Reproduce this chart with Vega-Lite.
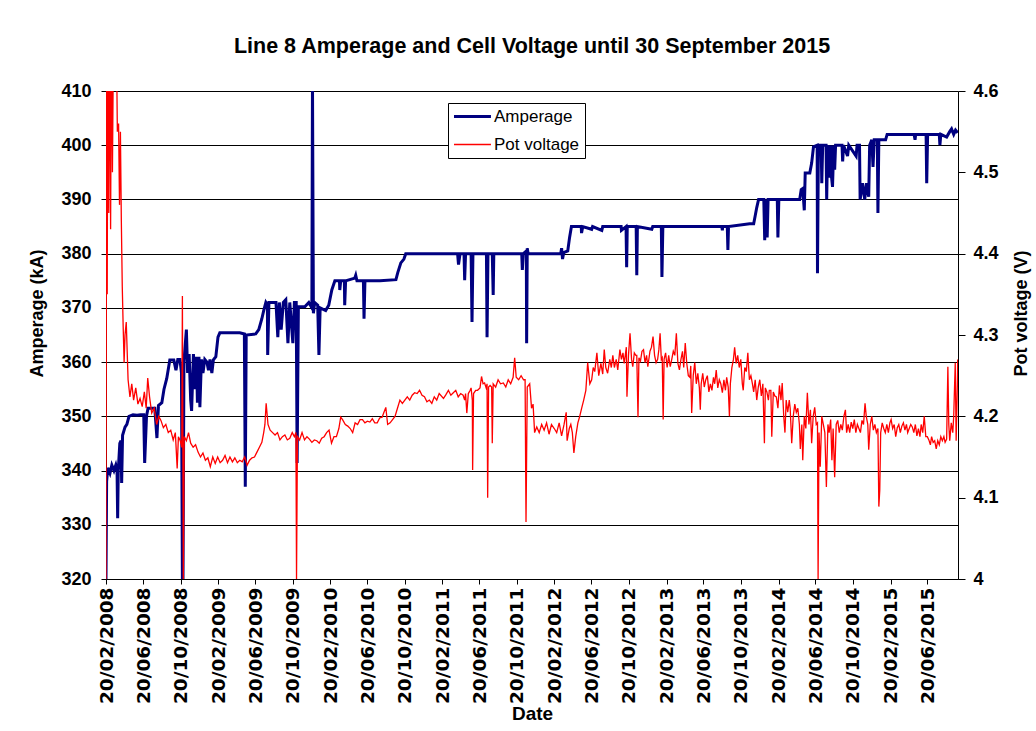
{
  "$schema": "https://vega.github.io/schema/vega-lite/v6.json",
  "width": 852,
  "height": 488,
  "autosize": {"type": "none"},
  "padding": {"left": 106, "top": 91, "right": 78, "bottom": 152},
  "background": "white",
  "title": {
    "text": "Line 8 Amperage and Cell Voltage until 30 September  2015",
    "font": "Liberation Sans",
    "fontSize": 21.5,
    "fontWeight": "bold",
    "color": "#000",
    "anchor": "middle",
    "offset": 25
  },
  "datasets": {
    "amp": [
      {"date":"2008-02-20","kA":320},{"date":"2008-02-22","kA":338},{"date":"2008-02-26","kA":340.5},{"date":"2008-03-04","kA":339.5},{"date":"2008-03-10","kA":341},{"date":"2008-03-17","kA":340},{"date":"2008-03-23","kA":341},{"date":"2008-03-27","kA":340},{"date":"2008-03-29","kA":331.2},{"date":"2008-03-31","kA":340},{"date":"2008-04-05","kA":345},{"date":"2008-04-09","kA":345.5},{"date":"2008-04-11","kA":337.7},{"date":"2008-04-14","kA":346.5},{"date":"2008-04-22","kA":348},{"date":"2008-04-28","kA":348.5},{"date":"2008-05-05","kA":350},{"date":"2008-05-18","kA":350.3},{"date":"2008-05-31","kA":350.2},{"date":"2008-06-12","kA":350.3},{"date":"2008-06-22","kA":350.3},{"date":"2008-06-25","kA":341.4},{"date":"2008-07-01","kA":350},{"date":"2008-07-06","kA":351.5},{"date":"2008-07-22","kA":351.5},{"date":"2008-07-28","kA":351.5},{"date":"2008-08-04","kA":346},{"date":"2008-08-09","kA":352},{"date":"2008-08-20","kA":352.5},{"date":"2008-08-27","kA":355},{"date":"2008-09-05","kA":357},{"date":"2008-09-15","kA":360.4},{"date":"2008-09-28","kA":360.4},{"date":"2008-10-05","kA":358.5},{"date":"2008-10-11","kA":360.5},{"date":"2008-10-18","kA":360.5},{"date":"2008-10-23","kA":358},{"date":"2008-10-26","kA":320},{"date":"2008-10-28","kA":320},{"date":"2008-10-31","kA":360},{"date":"2008-11-08","kA":366},{"date":"2008-11-12","kA":358},{"date":"2008-11-17","kA":361.5},{"date":"2008-11-22","kA":353},{"date":"2008-11-25","kA":351},{"date":"2008-12-01","kA":361.5},{"date":"2008-12-06","kA":355},{"date":"2008-12-11","kA":361},{"date":"2008-12-14","kA":352.5},{"date":"2008-12-19","kA":361},{"date":"2008-12-22","kA":351.7},{"date":"2008-12-27","kA":360.5},{"date":"2009-01-01","kA":358},{"date":"2009-01-07","kA":360.5},{"date":"2009-01-14","kA":360},{"date":"2009-01-19","kA":358.5},{"date":"2009-01-24","kA":360.5},{"date":"2009-01-30","kA":358},{"date":"2009-02-04","kA":360.4},{"date":"2009-02-12","kA":361},{"date":"2009-02-19","kA":364.6},{"date":"2009-02-25","kA":365.4},{"date":"2009-03-30","kA":365.4},{"date":"2009-05-01","kA":365.4},{"date":"2009-05-16","kA":365.2},{"date":"2009-05-19","kA":337},{"date":"2009-05-22","kA":365},{"date":"2009-06-22","kA":365.2},{"date":"2009-07-02","kA":366},{"date":"2009-07-12","kA":368},{"date":"2009-07-18","kA":369.5},{"date":"2009-07-25","kA":371},{"date":"2009-07-30","kA":370.5},{"date":"2009-07-31","kA":361.3},{"date":"2009-08-04","kA":371},{"date":"2009-08-27","kA":371},{"date":"2009-09-02","kA":364.6},{"date":"2009-09-07","kA":371},{"date":"2009-09-13","kA":366},{"date":"2009-09-20","kA":371},{"date":"2009-09-28","kA":371.5},{"date":"2009-10-05","kA":363.5},{"date":"2009-10-11","kA":371},{"date":"2009-10-21","kA":363.5},{"date":"2009-10-26","kA":371},{"date":"2009-11-01","kA":371},{"date":"2009-11-04","kA":341.4},{"date":"2009-11-08","kA":370.2},{"date":"2009-11-29","kA":370.2},{"date":"2009-12-12","kA":371},{"date":"2009-12-22","kA":370},{"date":"2009-12-24","kA":412},{"date":"2009-12-27","kA":369},{"date":"2009-12-31","kA":371},{"date":"2010-01-10","kA":370.5},{"date":"2010-01-14","kA":361.3},{"date":"2010-01-18","kA":370},{"date":"2010-02-05","kA":369.5},{"date":"2010-02-15","kA":370.5},{"date":"2010-02-25","kA":373.3},{"date":"2010-03-07","kA":375},{"date":"2010-03-22","kA":375},{"date":"2010-03-23","kA":373.3},{"date":"2010-03-26","kA":375},{"date":"2010-04-07","kA":375},{"date":"2010-04-08","kA":370.5},{"date":"2010-04-11","kA":375},{"date":"2010-05-11","kA":375.5},{"date":"2010-05-14","kA":376},{"date":"2010-05-18","kA":375},{"date":"2010-06-08","kA":375},{"date":"2010-06-10","kA":368},{"date":"2010-06-13","kA":375},{"date":"2010-08-01","kA":375},{"date":"2010-09-22","kA":375.2},{"date":"2010-09-28","kA":376.5},{"date":"2010-10-08","kA":378.3},{"date":"2010-10-18","kA":379},{"date":"2010-10-24","kA":380},{"date":"2011-01-10","kA":380},{"date":"2011-02-19","kA":380},{"date":"2011-04-11","kA":380},{"date":"2011-04-14","kA":378},{"date":"2011-04-19","kA":380},{"date":"2011-05-02","kA":380},{"date":"2011-05-04","kA":375.1},{"date":"2011-05-07","kA":380},{"date":"2011-05-25","kA":380},{"date":"2011-05-28","kA":367.4},{"date":"2011-05-31","kA":380},{"date":"2011-07-14","kA":380},{"date":"2011-07-16","kA":364.6},{"date":"2011-07-19","kA":380},{"date":"2011-08-02","kA":380},{"date":"2011-08-05","kA":372.4},{"date":"2011-08-07","kA":380},{"date":"2011-09-28","kA":380},{"date":"2011-11-06","kA":380},{"date":"2011-11-08","kA":377},{"date":"2011-11-11","kA":380},{"date":"2011-11-21","kA":380.5},{"date":"2011-11-22","kA":363.5},{"date":"2011-11-24","kA":381},{"date":"2011-11-27","kA":380},{"date":"2012-02-05","kA":380},{"date":"2012-03-12","kA":380},{"date":"2012-03-15","kA":381},{"date":"2012-03-18","kA":379},{"date":"2012-03-22","kA":380.2},{"date":"2012-04-04","kA":380.5},{"date":"2012-04-10","kA":383},{"date":"2012-04-16","kA":385},{"date":"2012-05-18","kA":385},{"date":"2012-05-19","kA":383.8},{"date":"2012-05-23","kA":385},{"date":"2012-06-21","kA":384.5},{"date":"2012-06-24","kA":385},{"date":"2012-07-24","kA":384.3},{"date":"2012-07-27","kA":385},{"date":"2012-09-25","kA":385},{"date":"2012-09-26","kA":384.3},{"date":"2012-10-11","kA":385},{"date":"2012-10-13","kA":377.5},{"date":"2012-10-15","kA":385},{"date":"2012-11-13","kA":385},{"date":"2012-11-15","kA":376},{"date":"2012-11-17","kA":385},{"date":"2013-01-03","kA":384.5},{"date":"2013-01-06","kA":385},{"date":"2013-02-03","kA":385},{"date":"2013-02-05","kA":375.7},{"date":"2013-02-08","kA":385},{"date":"2013-06-08","kA":385},{"date":"2013-08-19","kA":385},{"date":"2013-08-21","kA":384.3},{"date":"2013-08-22","kA":385},{"date":"2013-09-06","kA":385},{"date":"2013-09-08","kA":380.7},{"date":"2013-09-10","kA":385},{"date":"2013-11-18","kA":385.5},{"date":"2013-12-01","kA":385.5},{"date":"2013-12-06","kA":387},{"date":"2013-12-11","kA":388.5},{"date":"2013-12-17","kA":390},{"date":"2014-01-03","kA":390},{"date":"2014-01-06","kA":382.5},{"date":"2014-01-09","kA":390},{"date":"2014-01-14","kA":383},{"date":"2014-01-17","kA":390},{"date":"2014-02-16","kA":390},{"date":"2014-02-18","kA":383},{"date":"2014-02-21","kA":390},{"date":"2014-04-30","kA":390},{"date":"2014-05-05","kA":391.8},{"date":"2014-05-10","kA":392},{"date":"2014-05-15","kA":388},{"date":"2014-05-18","kA":394.9},{"date":"2014-06-02","kA":394.9},{"date":"2014-06-08","kA":396.7},{"date":"2014-06-14","kA":399.7},{"date":"2014-06-26","kA":400},{"date":"2014-06-27","kA":376.4},{"date":"2014-06-30","kA":400},{"date":"2014-07-09","kA":400},{"date":"2014-07-11","kA":393},{"date":"2014-07-14","kA":400},{"date":"2014-07-25","kA":400},{"date":"2014-07-27","kA":390},{"date":"2014-07-30","kA":400},{"date":"2014-08-06","kA":394},{"date":"2014-08-09","kA":400},{"date":"2014-08-12","kA":394},{"date":"2014-08-15","kA":392.3},{"date":"2014-08-19","kA":400},{"date":"2014-08-22","kA":395.5},{"date":"2014-08-25","kA":400},{"date":"2014-09-15","kA":400},{"date":"2014-09-17","kA":397},{"date":"2014-09-20","kA":400},{"date":"2014-10-03","kA":398},{"date":"2014-10-07","kA":400},{"date":"2014-10-31","kA":398},{"date":"2014-11-03","kA":400},{"date":"2014-11-11","kA":400},{"date":"2014-11-13","kA":390},{"date":"2014-11-21","kA":393},{"date":"2014-11-28","kA":390},{"date":"2014-12-04","kA":393},{"date":"2014-12-11","kA":390.5},{"date":"2014-12-14","kA":400},{"date":"2014-12-21","kA":401},{"date":"2014-12-25","kA":396},{"date":"2014-12-29","kA":401},{"date":"2015-01-08","kA":401},{"date":"2015-01-10","kA":387.5},{"date":"2015-01-13","kA":401},{"date":"2015-02-04","kA":401},{"date":"2015-02-09","kA":402},{"date":"2015-05-08","kA":402},{"date":"2015-05-11","kA":401},{"date":"2015-05-13","kA":402},{"date":"2015-06-16","kA":402},{"date":"2015-06-18","kA":393},{"date":"2015-06-21","kA":402},{"date":"2015-07-29","kA":402},{"date":"2015-07-31","kA":400},{"date":"2015-08-03","kA":402},{"date":"2015-08-22","kA":401.5},{"date":"2015-09-01","kA":402.5},{"date":"2015-09-07","kA":403},{"date":"2015-09-14","kA":402},{"date":"2015-09-20","kA":402.8},{"date":"2015-09-27","kA":402.3}
    ],
    "volt": [
      {"date":"2008-02-20","V":4.0},{"date":"2008-02-22","V":4.7},{"date":"2008-02-24","V":4.35},{"date":"2008-02-26","V":4.7},{"date":"2008-02-29","V":4.45},{"date":"2008-03-03","V":4.7},{"date":"2008-03-06","V":4.43},{"date":"2008-03-09","V":4.7},{"date":"2008-03-12","V":4.5},{"date":"2008-03-16","V":4.7},{"date":"2008-03-20","V":4.6},{"date":"2008-03-24","V":4.7},{"date":"2008-03-28","V":4.55},{"date":"2008-04-01","V":4.56},{"date":"2008-04-04","V":4.46},{"date":"2008-04-07","V":4.55},{"date":"2008-04-10","V":4.44},{"date":"2008-04-13","V":4.36},{"date":"2008-04-16","V":4.31},{"date":"2008-04-19","V":4.266},{"date":"2008-04-22","V":4.3},{"date":"2008-04-26","V":4.316},{"date":"2008-05-02","V":4.245},{"date":"2008-05-08","V":4.224},{"date":"2008-05-14","V":4.24},{"date":"2008-05-20","V":4.22},{"date":"2008-05-27","V":4.235},{"date":"2008-06-03","V":4.215},{"date":"2008-06-10","V":4.222},{"date":"2008-06-17","V":4.212},{"date":"2008-06-24","V":4.23},{"date":"2008-06-30","V":4.21},{"date":"2008-07-05","V":4.247},{"date":"2008-07-11","V":4.224},{"date":"2008-07-18","V":4.204},{"date":"2008-07-26","V":4.21},{"date":"2008-08-03","V":4.19},{"date":"2008-08-10","V":4.2},{"date":"2008-08-17","V":4.195},{"date":"2008-08-25","V":4.186},{"date":"2008-09-02","V":4.19},{"date":"2008-09-10","V":4.18},{"date":"2008-09-18","V":4.183},{"date":"2008-09-26","V":4.171},{"date":"2008-10-03","V":4.18},{"date":"2008-10-09","V":4.136},{"date":"2008-10-13","V":4.175},{"date":"2008-10-19","V":4.17},{"date":"2008-10-24","V":4.162},{"date":"2008-10-26","V":4.348},{"date":"2008-10-29","V":4.0},{"date":"2008-11-01","V":4.175},{"date":"2008-11-08","V":4.17},{"date":"2008-11-15","V":4.18},{"date":"2008-11-22","V":4.167},{"date":"2008-11-30","V":4.162},{"date":"2008-12-08","V":4.165},{"date":"2008-12-16","V":4.156},{"date":"2008-12-24","V":4.15},{"date":"2009-01-01","V":4.155},{"date":"2009-01-09","V":4.146},{"date":"2009-01-17","V":4.149},{"date":"2009-01-25","V":4.138},{"date":"2009-02-02","V":4.15},{"date":"2009-02-10","V":4.142},{"date":"2009-02-18","V":4.15},{"date":"2009-02-26","V":4.143},{"date":"2009-03-06","V":4.146},{"date":"2009-03-14","V":4.152},{"date":"2009-03-22","V":4.143},{"date":"2009-03-30","V":4.15},{"date":"2009-04-07","V":4.144},{"date":"2009-04-15","V":4.149},{"date":"2009-04-23","V":4.143},{"date":"2009-05-01","V":4.146},{"date":"2009-05-09","V":4.144},{"date":"2009-05-17","V":4.15},{"date":"2009-05-25","V":4.14},{"date":"2009-06-02","V":4.146},{"date":"2009-06-10","V":4.149},{"date":"2009-06-18","V":4.15},{"date":"2009-06-26","V":4.156},{"date":"2009-07-04","V":4.162},{"date":"2009-07-12","V":4.168},{"date":"2009-07-18","V":4.18},{"date":"2009-07-22","V":4.19},{"date":"2009-07-26","V":4.216},{"date":"2009-08-01","V":4.19},{"date":"2009-08-08","V":4.183},{"date":"2009-08-16","V":4.18},{"date":"2009-08-24","V":4.177},{"date":"2009-09-01","V":4.18},{"date":"2009-09-09","V":4.171},{"date":"2009-09-17","V":4.175},{"date":"2009-09-25","V":4.177},{"date":"2009-10-03","V":4.171},{"date":"2009-10-11","V":4.173},{"date":"2009-10-19","V":4.18},{"date":"2009-10-26","V":4.175},{"date":"2009-10-31","V":4.18},{"date":"2009-11-02","V":4.0},{"date":"2009-11-05","V":4.175},{"date":"2009-11-12","V":4.171},{"date":"2009-11-20","V":4.18},{"date":"2009-11-28","V":4.171},{"date":"2009-12-06","V":4.175},{"date":"2009-12-14","V":4.172},{"date":"2009-12-22","V":4.168},{"date":"2009-12-30","V":4.171},{"date":"2010-01-07","V":4.17},{"date":"2010-01-15","V":4.167},{"date":"2010-01-23","V":4.173},{"date":"2010-01-31","V":4.175},{"date":"2010-02-08","V":4.18},{"date":"2010-02-16","V":4.183},{"date":"2010-02-24","V":4.167},{"date":"2010-03-04","V":4.175},{"date":"2010-03-12","V":4.175},{"date":"2010-03-20","V":4.185},{"date":"2010-03-26","V":4.199},{"date":"2010-04-01","V":4.196},{"date":"2010-04-10","V":4.19},{"date":"2010-04-18","V":4.188},{"date":"2010-04-26","V":4.185},{"date":"2010-05-04","V":4.18},{"date":"2010-05-12","V":4.192},{"date":"2010-05-20","V":4.19},{"date":"2010-05-28","V":4.196},{"date":"2010-06-05","V":4.196},{"date":"2010-06-13","V":4.192},{"date":"2010-06-21","V":4.194},{"date":"2010-06-29","V":4.193},{"date":"2010-07-07","V":4.197},{"date":"2010-07-15","V":4.192},{"date":"2010-07-23","V":4.192},{"date":"2010-07-31","V":4.198},{"date":"2010-08-08","V":4.199},{"date":"2010-08-14","V":4.205},{"date":"2010-08-20","V":4.211},{"date":"2010-08-26","V":4.19},{"date":"2010-09-03","V":4.192},{"date":"2010-09-11","V":4.196},{"date":"2010-09-19","V":4.2},{"date":"2010-09-27","V":4.21},{"date":"2010-10-05","V":4.22},{"date":"2010-10-13","V":4.216},{"date":"2010-10-21","V":4.22},{"date":"2010-10-29","V":4.224},{"date":"2010-11-06","V":4.22},{"date":"2010-11-14","V":4.226},{"date":"2010-11-22","V":4.229},{"date":"2010-11-30","V":4.228},{"date":"2010-12-08","V":4.232},{"date":"2010-12-16","V":4.226},{"date":"2010-12-24","V":4.224},{"date":"2011-01-01","V":4.218},{"date":"2011-01-09","V":4.22},{"date":"2011-01-17","V":4.216},{"date":"2011-01-25","V":4.224},{"date":"2011-02-02","V":4.22},{"date":"2011-02-10","V":4.228},{"date":"2011-02-24","V":4.222},{"date":"2011-03-03","V":4.226},{"date":"2011-03-12","V":4.232},{"date":"2011-03-20","V":4.226},{"date":"2011-03-28","V":4.229},{"date":"2011-04-05","V":4.232},{"date":"2011-04-13","V":4.224},{"date":"2011-04-21","V":4.228},{"date":"2011-04-29","V":4.226},{"date":"2011-05-04","V":4.22},{"date":"2011-05-07","V":4.228},{"date":"2011-05-11","V":4.204},{"date":"2011-05-16","V":4.228},{"date":"2011-05-22","V":4.232},{"date":"2011-05-25","V":4.235},{"date":"2011-05-29","V":4.22},{"date":"2011-05-30","V":4.134},{"date":"2011-06-02","V":4.228},{"date":"2011-06-09","V":4.232},{"date":"2011-06-15","V":4.232},{"date":"2011-06-23","V":4.235},{"date":"2011-06-28","V":4.249},{"date":"2011-07-03","V":4.24},{"date":"2011-07-08","V":4.241},{"date":"2011-07-13","V":4.235},{"date":"2011-07-16","V":4.24},{"date":"2011-07-18","V":4.1},{"date":"2011-07-21","V":4.236},{"date":"2011-07-26","V":4.238},{"date":"2011-07-31","V":4.236},{"date":"2011-08-02","V":4.167},{"date":"2011-08-05","V":4.24},{"date":"2011-08-13","V":4.236},{"date":"2011-08-21","V":4.245},{"date":"2011-08-29","V":4.24},{"date":"2011-09-07","V":4.241},{"date":"2011-09-15","V":4.236},{"date":"2011-09-23","V":4.245},{"date":"2011-10-01","V":4.24},{"date":"2011-10-09","V":4.248},{"date":"2011-10-14","V":4.272},{"date":"2011-10-19","V":4.248},{"date":"2011-10-27","V":4.245},{"date":"2011-11-04","V":4.25},{"date":"2011-11-12","V":4.245},{"date":"2011-11-17","V":4.245},{"date":"2011-11-20","V":4.07},{"date":"2011-11-24","V":4.236},{"date":"2011-12-02","V":4.24},{"date":"2011-12-08","V":4.21},{"date":"2011-12-13","V":4.215},{"date":"2011-12-18","V":4.18},{"date":"2011-12-25","V":4.187},{"date":"2012-01-02","V":4.18},{"date":"2012-01-10","V":4.19},{"date":"2012-01-18","V":4.183},{"date":"2012-01-26","V":4.192},{"date":"2012-02-03","V":4.178},{"date":"2012-02-11","V":4.19},{"date":"2012-02-20","V":4.185},{"date":"2012-02-28","V":4.18},{"date":"2012-03-07","V":4.192},{"date":"2012-03-15","V":4.176},{"date":"2012-03-23","V":4.19},{"date":"2012-03-30","V":4.205},{"date":"2012-04-02","V":4.17},{"date":"2012-04-09","V":4.185},{"date":"2012-04-14","V":4.19},{"date":"2012-04-19","V":4.18},{"date":"2012-04-24","V":4.155},{"date":"2012-04-30","V":4.175},{"date":"2012-05-07","V":4.192},{"date":"2012-05-13","V":4.2},{"date":"2012-05-20","V":4.211},{"date":"2012-05-26","V":4.22},{"date":"2012-06-02","V":4.232},{"date":"2012-06-08","V":4.266},{"date":"2012-06-15","V":4.24},{"date":"2012-06-21","V":4.245},{"date":"2012-06-26","V":4.26},{"date":"2012-07-01","V":4.255},{"date":"2012-07-08","V":4.278},{"date":"2012-07-14","V":4.25},{"date":"2012-07-21","V":4.265},{"date":"2012-07-27","V":4.252},{"date":"2012-08-01","V":4.282},{"date":"2012-08-06","V":4.26},{"date":"2012-08-12","V":4.253},{"date":"2012-08-19","V":4.27},{"date":"2012-08-24","V":4.26},{"date":"2012-08-29","V":4.275},{"date":"2012-09-03","V":4.26},{"date":"2012-09-09","V":4.27},{"date":"2012-09-14","V":4.257},{"date":"2012-09-21","V":4.282},{"date":"2012-09-26","V":4.27},{"date":"2012-10-01","V":4.278},{"date":"2012-10-05","V":4.265},{"date":"2012-10-12","V":4.285},{"date":"2012-10-14","V":4.224},{"date":"2012-10-19","V":4.275},{"date":"2012-10-24","V":4.302},{"date":"2012-10-29","V":4.27},{"date":"2012-11-02","V":4.261},{"date":"2012-11-07","V":4.278},{"date":"2012-11-12","V":4.275},{"date":"2012-11-15","V":4.275},{"date":"2012-11-19","V":4.199},{"date":"2012-11-22","V":4.272},{"date":"2012-11-27","V":4.268},{"date":"2012-12-02","V":4.28},{"date":"2012-12-07","V":4.282},{"date":"2012-12-12","V":4.266},{"date":"2012-12-17","V":4.275},{"date":"2012-12-21","V":4.261},{"date":"2012-12-28","V":4.28},{"date":"2013-01-02","V":4.285},{"date":"2013-01-07","V":4.298},{"date":"2013-01-12","V":4.275},{"date":"2013-01-17","V":4.266},{"date":"2013-01-22","V":4.27},{"date":"2013-01-26","V":4.282},{"date":"2013-01-30","V":4.302},{"date":"2013-02-03","V":4.27},{"date":"2013-02-06","V":4.272},{"date":"2013-02-09","V":4.196},{"date":"2013-02-12","V":4.27},{"date":"2013-02-17","V":4.278},{"date":"2013-02-22","V":4.26},{"date":"2013-02-27","V":4.275},{"date":"2013-03-04","V":4.261},{"date":"2013-03-09","V":4.27},{"date":"2013-03-14","V":4.28},{"date":"2013-03-19","V":4.275},{"date":"2013-03-24","V":4.302},{"date":"2013-03-29","V":4.265},{"date":"2013-04-03","V":4.257},{"date":"2013-04-08","V":4.27},{"date":"2013-04-13","V":4.28},{"date":"2013-04-17","V":4.26},{"date":"2013-04-22","V":4.29},{"date":"2013-04-27","V":4.265},{"date":"2013-05-02","V":4.25},{"date":"2013-05-07","V":4.248},{"date":"2013-05-10","V":4.262},{"date":"2013-05-13","V":4.204},{"date":"2013-05-18","V":4.25},{"date":"2013-05-23","V":4.266},{"date":"2013-05-28","V":4.24},{"date":"2013-06-02","V":4.253},{"date":"2013-06-07","V":4.235},{"date":"2013-06-10","V":4.208},{"date":"2013-06-13","V":4.24},{"date":"2013-06-18","V":4.253},{"date":"2013-06-23","V":4.236},{"date":"2013-06-28","V":4.245},{"date":"2013-07-03","V":4.25},{"date":"2013-07-08","V":4.23},{"date":"2013-07-13","V":4.24},{"date":"2013-07-18","V":4.232},{"date":"2013-07-23","V":4.248},{"date":"2013-07-27","V":4.24},{"date":"2013-08-01","V":4.257},{"date":"2013-08-06","V":4.235},{"date":"2013-08-11","V":4.245},{"date":"2013-08-16","V":4.24},{"date":"2013-08-21","V":4.229},{"date":"2013-08-26","V":4.245},{"date":"2013-08-31","V":4.232},{"date":"2013-09-04","V":4.248},{"date":"2013-09-09","V":4.236},{"date":"2013-09-13","V":4.2},{"date":"2013-09-16","V":4.24},{"date":"2013-09-21","V":4.26},{"date":"2013-09-26","V":4.27},{"date":"2013-09-30","V":4.285},{"date":"2013-10-05","V":4.265},{"date":"2013-10-10","V":4.275},{"date":"2013-10-15","V":4.26},{"date":"2013-10-20","V":4.27},{"date":"2013-10-25","V":4.24},{"date":"2013-10-28","V":4.232},{"date":"2013-11-02","V":4.26},{"date":"2013-11-07","V":4.255},{"date":"2013-11-12","V":4.278},{"date":"2013-11-17","V":4.245},{"date":"2013-11-22","V":4.25},{"date":"2013-11-27","V":4.24},{"date":"2013-12-01","V":4.23},{"date":"2013-12-06","V":4.245},{"date":"2013-12-11","V":4.22},{"date":"2013-12-16","V":4.236},{"date":"2013-12-21","V":4.245},{"date":"2013-12-26","V":4.225},{"date":"2013-12-31","V":4.24},{"date":"2014-01-05","V":4.167},{"date":"2014-01-08","V":4.235},{"date":"2014-01-13","V":4.23},{"date":"2014-01-18","V":4.22},{"date":"2014-01-21","V":4.232},{"date":"2014-01-26","V":4.232},{"date":"2014-01-29","V":4.175},{"date":"2014-02-03","V":4.23},{"date":"2014-02-08","V":4.225},{"date":"2014-02-13","V":4.224},{"date":"2014-02-18","V":4.21},{"date":"2014-02-23","V":4.238},{"date":"2014-02-28","V":4.22},{"date":"2014-03-04","V":4.241},{"date":"2014-03-09","V":4.2},{"date":"2014-03-13","V":4.18},{"date":"2014-03-17","V":4.22},{"date":"2014-03-22","V":4.205},{"date":"2014-03-27","V":4.22},{"date":"2014-03-30","V":4.21},{"date":"2014-04-04","V":4.167},{"date":"2014-04-09","V":4.2},{"date":"2014-04-14","V":4.215},{"date":"2014-04-19","V":4.205},{"date":"2014-04-24","V":4.21},{"date":"2014-04-29","V":4.19},{"date":"2014-05-02","V":4.16},{"date":"2014-05-07","V":4.19},{"date":"2014-05-10","V":4.146},{"date":"2014-05-15","V":4.2},{"date":"2014-05-20","V":4.185},{"date":"2014-05-25","V":4.229},{"date":"2014-05-30","V":4.19},{"date":"2014-06-04","V":4.208},{"date":"2014-06-08","V":4.167},{"date":"2014-06-13","V":4.2},{"date":"2014-06-18","V":4.211},{"date":"2014-06-23","V":4.19},{"date":"2014-06-27","V":4.192},{"date":"2014-06-29","V":4.0},{"date":"2014-07-02","V":4.18},{"date":"2014-07-06","V":4.138},{"date":"2014-07-11","V":4.2},{"date":"2014-07-16","V":4.19},{"date":"2014-07-21","V":4.18},{"date":"2014-07-26","V":4.113},{"date":"2014-07-31","V":4.19},{"date":"2014-08-04","V":4.18},{"date":"2014-08-09","V":4.196},{"date":"2014-08-13","V":4.146},{"date":"2014-08-17","V":4.185},{"date":"2014-08-22","V":4.125},{"date":"2014-08-27","V":4.19},{"date":"2014-09-01","V":4.195},{"date":"2014-09-06","V":4.18},{"date":"2014-09-11","V":4.19},{"date":"2014-09-16","V":4.183},{"date":"2014-09-21","V":4.2},{"date":"2014-09-26","V":4.208},{"date":"2014-09-30","V":4.18},{"date":"2014-10-05","V":4.19},{"date":"2014-10-10","V":4.18},{"date":"2014-10-15","V":4.193},{"date":"2014-10-20","V":4.185},{"date":"2014-10-25","V":4.196},{"date":"2014-10-30","V":4.18},{"date":"2014-11-04","V":4.19},{"date":"2014-11-09","V":4.185},{"date":"2014-11-14","V":4.18},{"date":"2014-11-19","V":4.195},{"date":"2014-11-24","V":4.19},{"date":"2014-11-29","V":4.216},{"date":"2014-12-03","V":4.2},{"date":"2014-12-08","V":4.19},{"date":"2014-12-11","V":4.159},{"date":"2014-12-16","V":4.19},{"date":"2014-12-21","V":4.2},{"date":"2014-12-26","V":4.183},{"date":"2014-12-31","V":4.19},{"date":"2015-01-05","V":4.18},{"date":"2015-01-10","V":4.185},{"date":"2015-01-13","V":4.089},{"date":"2015-01-16","V":4.109},{"date":"2015-01-19","V":4.18},{"date":"2015-01-24","V":4.192},{"date":"2015-01-29","V":4.185},{"date":"2015-02-03","V":4.18},{"date":"2015-02-08","V":4.19},{"date":"2015-02-13","V":4.18},{"date":"2015-02-18","V":4.192},{"date":"2015-02-22","V":4.196},{"date":"2015-02-27","V":4.185},{"date":"2015-03-04","V":4.19},{"date":"2015-03-09","V":4.175},{"date":"2015-03-14","V":4.186},{"date":"2015-03-19","V":4.19},{"date":"2015-03-24","V":4.18},{"date":"2015-03-29","V":4.188},{"date":"2015-04-03","V":4.192},{"date":"2015-04-08","V":4.183},{"date":"2015-04-13","V":4.19},{"date":"2015-04-17","V":4.18},{"date":"2015-04-22","V":4.185},{"date":"2015-04-27","V":4.19},{"date":"2015-05-02","V":4.187},{"date":"2015-05-07","V":4.18},{"date":"2015-05-12","V":4.19},{"date":"2015-05-17","V":4.176},{"date":"2015-05-22","V":4.185},{"date":"2015-05-27","V":4.175},{"date":"2015-05-31","V":4.19},{"date":"2015-06-05","V":4.18},{"date":"2015-06-10","V":4.2},{"date":"2015-06-15","V":4.175},{"date":"2015-06-20","V":4.175},{"date":"2015-06-25","V":4.171},{"date":"2015-06-30","V":4.165},{"date":"2015-07-04","V":4.175},{"date":"2015-07-09","V":4.168},{"date":"2015-07-14","V":4.17},{"date":"2015-07-19","V":4.16},{"date":"2015-07-24","V":4.17},{"date":"2015-07-29","V":4.165},{"date":"2015-08-03","V":4.175},{"date":"2015-08-08","V":4.17},{"date":"2015-08-13","V":4.175},{"date":"2015-08-17","V":4.168},{"date":"2015-08-22","V":4.172},{"date":"2015-08-26","V":4.261},{"date":"2015-08-29","V":4.19},{"date":"2015-09-01","V":4.17},{"date":"2015-09-06","V":4.192},{"date":"2015-09-11","V":4.18},{"date":"2015-09-14","V":4.2},{"date":"2015-09-19","V":4.266},{"date":"2015-09-22","V":4.17},{"date":"2015-09-26","V":4.24},{"date":"2015-09-27","V":4.27}
    ]
  },
  "encoding": {
    "x": {
      "field": "date",
      "type": "temporal",
      "scale": {
        "type": "utc",
        "domain": [
          {"year": 2008, "month": 2, "date": 20, "utc": true},
          {"year": 2015, "month": 9, "date": 28, "utc": true}
        ]
      },
      "axis": {
        "title": "Date",
        "titleFontSize": 19,
        "titlePadding": 1,
        "format": "%d/%m/%Y",
        "labelAngle": 270,
        "labelFont": "DejaVu Sans",
        "labelFontSize": 18.5,
        "labelPadding": 3,
        "tickSize": 5,
        "grid": false,
        "labelOverlap": false,
        "values": [
          {"year": 2008, "month": 2, "date": 20, "utc": true},
          {"year": 2008, "month": 6, "date": 20, "utc": true},
          {"year": 2008, "month": 10, "date": 20, "utc": true},
          {"year": 2009, "month": 2, "date": 20, "utc": true},
          {"year": 2009, "month": 6, "date": 20, "utc": true},
          {"year": 2009, "month": 10, "date": 20, "utc": true},
          {"year": 2010, "month": 2, "date": 20, "utc": true},
          {"year": 2010, "month": 6, "date": 20, "utc": true},
          {"year": 2010, "month": 10, "date": 20, "utc": true},
          {"year": 2011, "month": 2, "date": 20, "utc": true},
          {"year": 2011, "month": 6, "date": 20, "utc": true},
          {"year": 2011, "month": 10, "date": 20, "utc": true},
          {"year": 2012, "month": 2, "date": 20, "utc": true},
          {"year": 2012, "month": 6, "date": 20, "utc": true},
          {"year": 2012, "month": 10, "date": 20, "utc": true},
          {"year": 2013, "month": 2, "date": 20, "utc": true},
          {"year": 2013, "month": 6, "date": 20, "utc": true},
          {"year": 2013, "month": 10, "date": 20, "utc": true},
          {"year": 2014, "month": 2, "date": 20, "utc": true},
          {"year": 2014, "month": 6, "date": 20, "utc": true},
          {"year": 2014, "month": 10, "date": 20, "utc": true},
          {"year": 2015, "month": 2, "date": 20, "utc": true},
          {"year": 2015, "month": 6, "date": 20, "utc": true}
        ]
      }
    }
  },
  "layer": [
    {
      "data": {"name": "amp"},
      "mark": {"type": "line", "strokeWidth": 3, "clip": true, "strokeJoin": "miter"},
      "encoding": {
        "y": {
          "field": "kA",
          "type": "quantitative",
          "scale": {"domain": [320, 410], "zero": false, "nice": false},
          "axis": {
            "orient": "left",
            "title": "Amperage (kA)",
            "titleFontSize": 18,
            "titlePadding": 14,
            "titleY": 222,
            "values": [320, 330, 340, 350, 360, 370, 380, 390, 400, 410],
            "labelFontSize": 18,
            "labelPadding": 10,
            "tickSize": 5,
            "grid": true,
            "gridColor": "#000",
            "gridWidth": 1,
            "gridOpacity": 1
          }
        },
        "color": {
          "datum": "Amperage",
          "type": "nominal",
          "scale": {"domain": ["Amperage", "Pot voltage"], "range": ["#000080", "#FF0000"]},
          "legend": {
            "title": null,
            "orient": "none",
            "legendX": 342,
            "legendY": 12,
            "direction": "vertical",
            "symbolType": "M-0.79,0H3.1",
            "symbolSize": 361,
            "symbolStrokeWidth": 2,
            "labelFont": "Liberation Sans",
            "labelFontSize": 17,
            "labelColor": "#000",
            "labelOffset": 24,
            "padding": 5,
            "rowPadding": 10,
            "strokeColor": "#000",
            "fillColor": "#fff",
            "encode": {
              "symbols": {
                "update": {
                  "strokeWidth": {"signal": "datum.value === 'Amperage' ? 3 : 1.5"}
                }
              }
            }
          }
        }
      }
    },
    {
      "data": {"name": "volt"},
      "mark": {"type": "line", "strokeWidth": 1.3, "clip": true},
      "encoding": {
        "y": {
          "field": "V",
          "type": "quantitative",
          "scale": {"domain": [4, 4.6], "zero": false, "nice": false},
          "axis": {
            "orient": "right",
            "title": "Pot voltage (V)",
            "titleAngle": 270,
            "titleFontSize": 18,
            "titlePadding": 32,
            "titleY": 222,
            "values": [4, 4.1, 4.2, 4.3, 4.4, 4.5, 4.6],
            "format": ".1~f",
            "labelFontSize": 18,
            "labelPadding": 8,
            "tickSize": 7,
            "grid": false
          }
        },
        "color": {"datum": "Pot voltage", "type": "nominal"}
      }
    }
  ],
  "resolve": {"scale": {"y": "independent"}, "axis": {"y": "independent"}},
  "config": {
    "font": "Liberation Sans",
    "view": {"stroke": null},
    "axis": {
      "labelFont": "Liberation Sans",
      "titleFont": "Liberation Sans",
      "labelFontWeight": "bold",
      "titleFontWeight": "bold",
      "labelColor": "#000",
      "titleColor": "#000",
      "domainColor": "#000",
      "domainWidth": 1,
      "tickColor": "#000",
      "tickWidth": 1
    }
  }
}
